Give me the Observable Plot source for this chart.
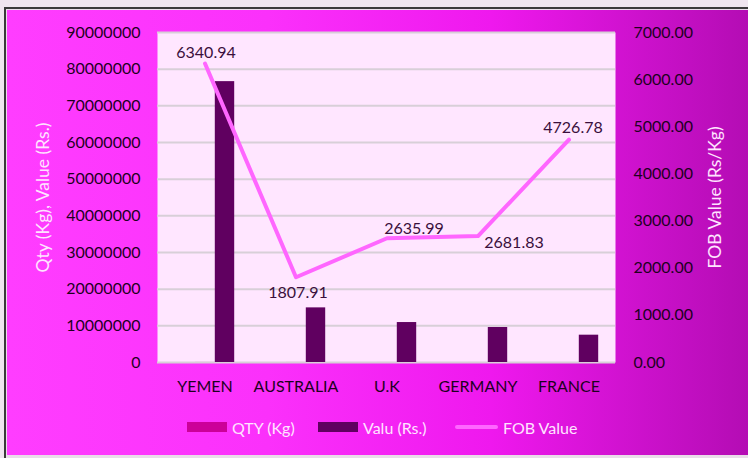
<!DOCTYPE html>
<html>
<head>
<meta charset="utf-8">
<script src="https://cdn.jsdelivr.net/npm/d3@7"></script>
<script src="https://cdn.jsdelivr.net/npm/@observablehq/plot@0.6"></script>
<style>
  html, body { margin: 0; padding: 0; background: #efe5ef; width: 748px; height: 458px; overflow: hidden; font-family: Lato, "Open Sans", sans-serif; }
  #outer { position: absolute; left: 4px; top: 7px; width: 748px; height: 447px; border: 2px solid #3a3a3a; border-right: none; padding: 1px 0 1px 1px; background: #e9dde9; }
  #chart { position: relative; width: 745px; height: 445px; background: linear-gradient(90deg, #ff3dff 0%, #fb30fb 35%, #ef18ee 65%, #b30cb3 100%); }
  #chart svg { position: absolute; left: 0; top: 0; }
  .legend { position: absolute; top: 406px; left: 0; height: 22px; font-size: 16px; color: #ffe4ff; white-space: nowrap; }
  .legend .item { position: absolute; top: 0; display: flex; align-items: center; height: 22px; }
  .legend .sw { display: inline-block; margin-right: 5px; }
</style>
</head>
<body>
<div id="outer"><div id="chart"></div></div>
<script>
const categories = ["YEMEN", "AUSTRALIA", "U.K", "GERMANY", "FRANCE"];
const qtyKg = [12080, 8240, 4135, 3560, 1576];
const valueRs = [76600000, 14900000, 10900000, 9550000, 7450000];
const fobValue = [6340.94, 1807.91, 2635.99, 2681.83, 4726.78];
const leftTicks = [0, 10000000, 20000000, 30000000, 40000000, 50000000, 60000000, 70000000, 80000000, 90000000];
const rightTicks = [0, 1000, 2000, 3000, 4000, 5000, 6000, 7000];
const seriesNames = ["QTY (Kg)", "Valu (Rs.)", "FOB Value"];

const rows = categories.map((c, i) => ({country: c, qty: qtyKg[i], value: valueRs[i], fob: fobValue[i]}));

const W = 741, H = 445, mL = 150, mR = 133, mT = 22, mB = 93;
const bw = (W - mL - mR) / categories.length;
const k = leftTicks[leftTicks.length - 1] / rightTicks[rightTicks.length - 1];
const labelOffsets = [[1, -11], [2, 16], [27, -9], [36, 7], [4, -12]];

const labelMarks = rows.map((r, i) => Plot.text([r], {
  x: "country", y: d => d.fob * k, text: d => d.fob.toFixed(2),
  dx: labelOffsets[i][0], dy: labelOffsets[i][1],
  fill: "#3a0f3c", fontSize: 16
}));

const chart = Plot.plot({
  width: W, height: H,
  marginLeft: mL, marginRight: mR, marginTop: mT, marginBottom: mB,
  style: {background: "transparent", fontFamily: "Lato, 'Open Sans', sans-serif", fontSize: "16px", overflow: "visible"},
  x: {domain: categories, padding: 0, axis: null},
  y: {domain: [0, leftTicks[leftTicks.length - 1]], axis: null},
  marks: [
    Plot.frame({fill: "#ffe6ff", stroke: null}),
    Plot.gridY(leftTicks, {stroke: "#d8cfd8", strokeOpacity: 1, strokeWidth: 2}),
    Plot.barY(rows, {x: "country", y: "qty", fill: "#cc0099", insetLeft: bw / 2 - 10, insetRight: bw / 2 - 10}),
    Plot.barY(rows, {x: "country", y: "value", fill: "#600060", insetLeft: bw / 2 + 10, insetRight: bw / 2 - 30}),
    Plot.line(rows, {x: "country", y: d => d.fob * k, stroke: "#ff66ff", strokeWidth: 4}),
    ...labelMarks,
    Plot.axisX({domain: categories, tickSize: 0, tickPadding: 18, fontSize: 16, color: "#1e001e", label: null}),
    Plot.axisY({ticks: leftTicks, tickFormat: d => String(d), tickSize: 0, tickPadding: 17, fontSize: 16, color: "#1e001e", anchor: "left", label: null}),
    Plot.axisY({ticks: rightTicks.map(v => v * k), tickFormat: d => (d / k).toFixed(2), tickSize: 0, tickPadding: 18, fontSize: 16, color: "#1e001e", anchor: "right", label: null}),
    Plot.text(["Qty (Kg), Value (Rs.)"], {frameAnchor: "left", textAnchor: "middle", dx: -114, rotate: -90, fill: "#ffe4ff", fontSize: 17.5}),
    Plot.text(["FOB Value (Rs/Kg)"], {frameAnchor: "right", textAnchor: "middle", dx: 100, rotate: -90, fill: "#ffe4ff", fontSize: 17.5})
  ]
});
const host = document.getElementById("chart");
host.appendChild(chart);

// legend
const leg = document.createElement("div");
leg.className = "legend";
const items = [
  {name: seriesNames[0], left: 180, sw: "width:40px;height:10px;background:#cc0099;"},
  {name: seriesNames[1], left: 311, sw: "width:40px;height:10px;background:#600060;"},
  {name: seriesNames[2], left: 448, sw: "width:43px;height:4px;background:#ff66ff;border-radius:2px;"}
];
for (const it of items) {
  const d = document.createElement("div");
  d.className = "item";
  d.style.left = it.left + "px";
  d.innerHTML = `<span class="sw" style="${it.sw}"></span><span>${it.name}</span>`;
  leg.appendChild(d);
}
host.appendChild(leg);
</script>
</body>
</html>
